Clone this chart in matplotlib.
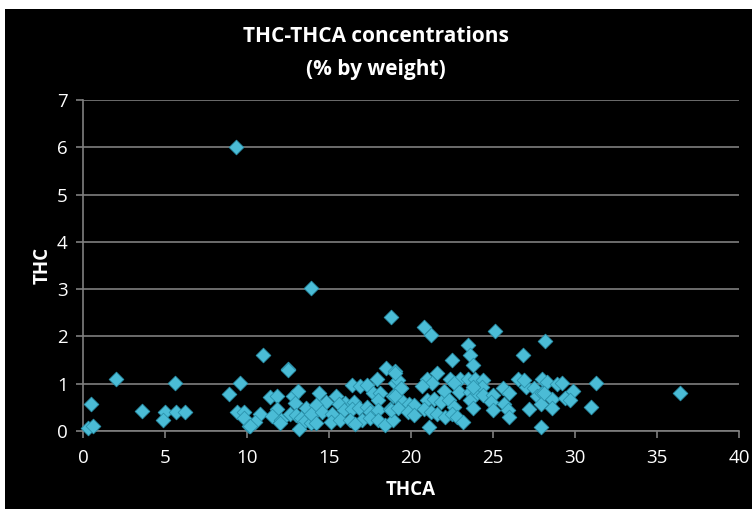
import numpy as np
import matplotlib.pyplot as plt
from matplotlib.patches import Rectangle

# THCA (x) and THC (y), % by weight
thca = [
    9.3, 13.9, 18.8, 20.8, 21.2, 25.1, 28.2, 23.5, 23.6, 23.8, 26.8, 22.5, 11.0, 12.5, 18.5, 19.0,
    2.0, 5.6, 9.6, 0.5, 3.6, 5.0, 5.7, 6.2, 4.9, 8.9, 9.4, 9.8, 9.8, 10.1, 0.3, 0.6,
    12.5, 11.4, 11.8, 12.8, 13.1, 12.9, 10.8, 11.8, 13.6, 14.3, 10.5, 10.2, 11.5, 12.1, 12.0,
    12.6, 13.0, 13.3, 13.5, 13.9, 13.2, 14.0,
    17.9, 16.4, 16.9, 17.3, 19.0, 14.4, 15.4, 17.7, 18.1, 14.8, 16.0, 16.5, 18.0, 18.9, 14.2,
    15.6, 13.9, 14.6, 15.2, 15.9, 16.4, 16.8, 17.3, 17.5, 18.0, 18.7, 15.1, 15.7, 16.3, 17.0,
    17.5, 18.0, 18.4, 18.9, 14.2, 16.6, 19.2, 19.4,
    19.0, 21.6, 21.0, 21.3, 22.4, 23.0, 23.5, 22.6, 20.7, 19.4, 22.0, 22.9, 23.6, 19.0, 19.5,
    19.9, 20.2, 21.0, 21.4, 21.8, 22.3, 22.6, 23.6, 24.0, 18.8, 19.2, 19.8, 20.2, 20.8, 21.2,
    21.6, 22.1, 22.5, 22.8, 23.2, 21.1,
    23.9, 24.4, 24.3, 23.8, 25.6, 26.0, 27.0, 27.5, 24.4, 25.0, 27.7, 28.0, 27.9, 28.6, 24.9,
    25.0, 25.7, 23.8, 25.9, 26.0, 27.2, 28.6, 27.9, 26.5, 26.9, 28.0, 28.3, 28.9,
    29.2, 31.3, 29.9, 28.1, 29.4, 29.7, 31.0, 36.4,
]
thc = [
    6.0, 3.02, 2.42, 2.2, 2.03, 2.11, 1.9, 1.82, 1.61, 1.40, 1.61, 1.50, 1.61, 1.31, 1.33, 1.26,
    1.09, 1.01, 1.01, 0.57, 0.42, 0.41, 0.41, 0.41, 0.23, 0.78, 0.41, 0.41, 0.27, 0.11, 0.07, 0.11,
    1.30, 0.71, 0.73, 0.73, 0.85, 0.59, 0.36, 0.46, 0.48, 0.58, 0.20, 0.11, 0.32, 0.23, 0.16,
    0.37, 0.34, 0.27, 0.20, 0.16, 0.04, 0.37,
    1.09, 0.97, 0.95, 0.97, 1.01, 0.80, 0.73, 0.81, 0.80, 0.62, 0.60, 0.62, 0.66, 0.73, 0.55,
    0.58, 0.37, 0.41, 0.37, 0.44, 0.46, 0.48, 0.50, 0.41, 0.44, 0.46, 0.20, 0.23, 0.23, 0.23,
    0.27, 0.23, 0.13, 0.23, 0.16, 0.15, 1.08, 0.90,
    1.22, 1.22, 1.11, 1.01, 1.11, 1.11, 1.09, 1.01, 0.95, 0.90, 0.85, 0.83, 0.83, 0.73, 0.62,
    0.58, 0.55, 0.66, 0.67, 0.62, 0.66, 0.51, 0.66, 0.80, 0.44, 0.48, 0.41, 0.34, 0.46, 0.41,
    0.37, 0.29, 0.37, 0.30, 0.20, 0.09,
    1.11, 1.08, 0.94, 0.94, 0.90, 0.80, 0.94, 0.90, 0.76, 0.76, 0.73, 0.80, 0.58, 0.67, 0.62,
    0.44, 0.58, 0.48, 0.44, 0.29, 0.46, 0.48, 0.09, 1.11, 1.08, 1.11, 1.04, 0.99,
    1.01, 1.02, 0.85, 0.80, 0.69, 0.66, 0.50, 0.81,
]

fig = plt.figure(figsize=(7.52, 5.09), dpi=100, facecolor='black')
# white strip on top and left like the original screenshot
fig.patches.append(Rectangle((0, 1 - 9/509), 1, 9/509, transform=fig.transFigure,
                             facecolor='white', edgecolor='none', zorder=-5))
fig.patches.append(Rectangle((0, 0), 5/752, 1, transform=fig.transFigure,
                             facecolor='white', edgecolor='none', zorder=-5))

ax = fig.add_axes([83/752, 1 - 431/509, 656/752, 331/509])
ax.set_facecolor('black')

ax.scatter(thca, thc, marker='D', s=56, color='#4bbcd6', edgecolors='#2b93ad',
           linewidths=0.6, zorder=3, clip_on=False)

ax.set_xlim(0, 40)
ax.set_ylim(0, 7)
ax.set_xticks(range(0, 41, 5))
ax.set_yticks(range(0, 8))
ax.yaxis.grid(True, color='#7f7f7f', linewidth=1.2)
ax.set_axisbelow(True)

for side in ['top', 'right']:
    ax.spines[side].set_visible(False)
for side in ['left', 'bottom']:
    ax.spines[side].set_color('#7f7f7f')
    ax.spines[side].set_linewidth(1.2)
ax.tick_params(colors='#7f7f7f', labelcolor='white', labelsize=13.5, length=5, width=1.2)
ax.tick_params(axis='x', pad=8)
ax.tick_params(axis='y', pad=6)

fnt = 'Open Sans'
for lab in ax.get_xticklabels() + ax.get_yticklabels():
    lab.set_family(fnt)

ax.set_xlabel('THCA', color='white', fontsize=13.5, fontweight='bold', family=fnt, labelpad=9)
ax.set_ylabel('THC', color='white', fontsize=13.5, fontweight='bold', family=fnt, labelpad=3)
fig.text(0.5, 1 - 36/509, 'THC-THCA concentrations', color='white', fontsize=15,
         fontweight='bold', family=fnt, ha='center', va='center')
fig.text(0.5, 1 - 69/509, '(% by weight)', color='white', fontsize=15,
         fontweight='bold', family=fnt, ha='center', va='center')

fig.savefig('out.png', dpi=100, facecolor=fig.get_facecolor())
